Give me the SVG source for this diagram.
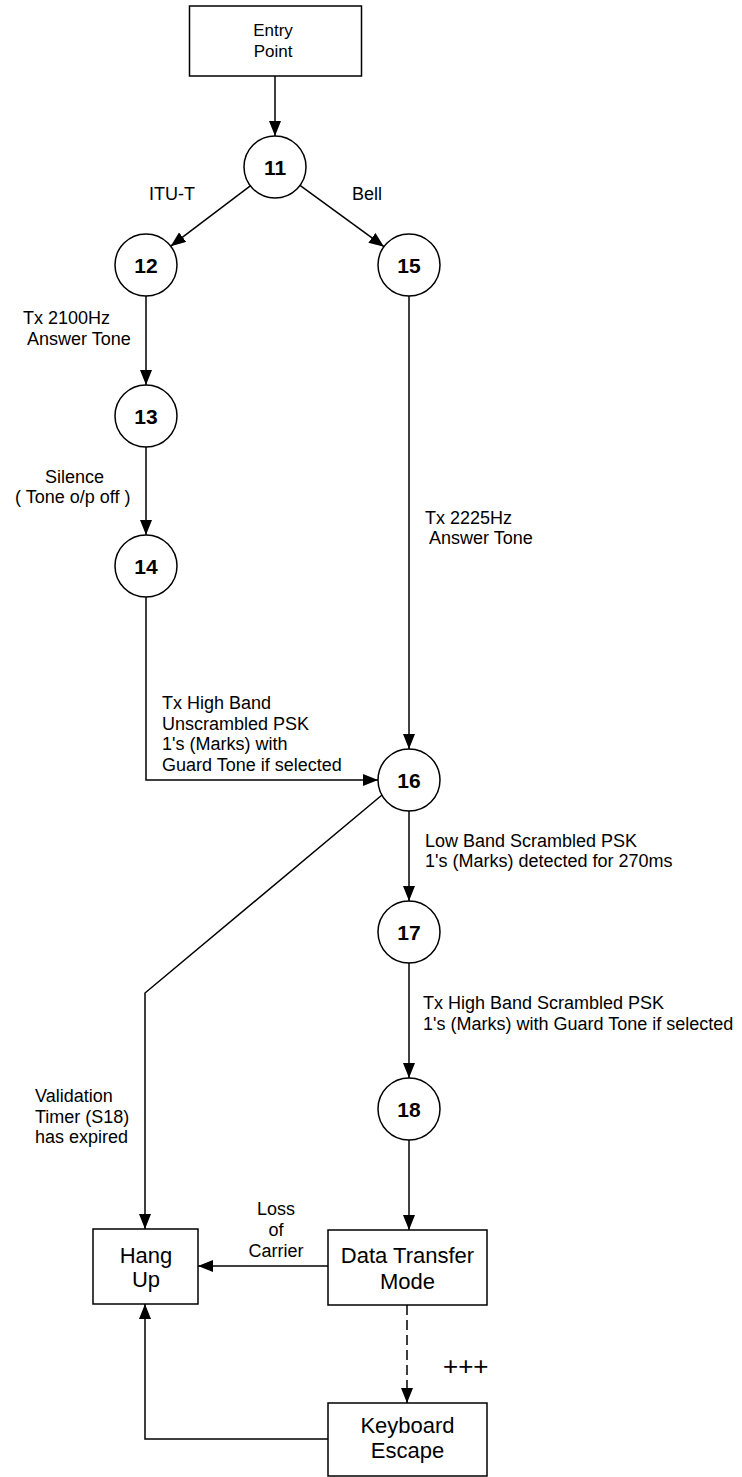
<svg xmlns="http://www.w3.org/2000/svg" width="742" height="1477" viewBox="0 0 742 1477">
<style>
text{font-family:"Liberation Sans",Arial,Helvetica,sans-serif;fill:#000}
.box{fill:#fff;stroke:#000;stroke-width:1.5}
.st{fill:#fff;stroke:#000;stroke-width:1.5}
.num{font-size:21px;font-weight:bold;text-anchor:middle}
.lbl{font-size:18px}
.bt{font-size:22px;text-anchor:middle}
.edge{fill:none;stroke:#000;stroke-width:1.5}
.dash{stroke-dasharray:10 5}
</style>
<defs>
<marker id="ah" markerWidth="15" markerHeight="12" refX="15" refY="6" orient="auto" markerUnits="userSpaceOnUse">
<path d="M0,0 L15,6 L0,12 z" fill="#000"/>
</marker>
</defs>
<rect width="742" height="1477" fill="#fff"/>
<g id="connectors">
<path class="edge" d="M275,76 V136" marker-end="url(#ah)"/>
<path class="edge" d="M250.3,185.8 L170.7,246.2" marker-end="url(#ah)"/>
<path class="edge" d="M300,185.3 L384,246.7" marker-end="url(#ah)"/>
<path class="edge" d="M146,296 V385" marker-end="url(#ah)"/>
<path class="edge" d="M146,447 V535" marker-end="url(#ah)"/>
<path class="edge" d="M409,296 V749" marker-end="url(#ah)"/>
<path class="edge" d="M146,597 V780 H378" marker-end="url(#ah)"/>
<path class="edge" d="M409,811 V901" marker-end="url(#ah)"/>
<path class="edge" d="M409,963 V1078" marker-end="url(#ah)"/>
<path class="edge" d="M409,1140 V1230" marker-end="url(#ah)"/>
<path class="edge" d="M382,795 L145,993 V1229" marker-end="url(#ah)"/>
<path class="edge" d="M328,1266 H198" marker-end="url(#ah)"/>
<path class="edge dash" d="M407,1305 V1403" marker-end="url(#ah)"/>
<path class="edge" d="M328,1439 H145 V1304" marker-end="url(#ah)"/>
</g>
<g id="labels">
<text class="lbl" x="149" y="200" font-size="17">ITU-T</text>
<text class="lbl" x="352" y="200">Bell</text>
<text class="lbl" x="23" y="324">Tx 2100Hz</text>
<text class="lbl" x="27" y="345">Answer Tone</text>
<text class="lbl" x="45" y="483">Silence</text>
<text class="lbl" x="15" y="503">( Tone o/p off )</text>
<text class="lbl" x="425" y="524">Tx 2225Hz</text>
<text class="lbl" x="429" y="544">Answer Tone</text>
<text class="lbl" x="162" y="709">Tx High Band</text>
<text class="lbl" x="162" y="730">Unscrambled PSK</text>
<text class="lbl" x="162" y="750">1's (Marks) with</text>
<text class="lbl" x="162" y="771">Guard Tone if selected</text>
<text class="lbl" x="425" y="847">Low Band Scrambled PSK</text>
<text class="lbl" x="425" y="867">1's (Marks) detected for 270ms</text>
<text class="lbl" x="423" y="1009">Tx High Band Scrambled PSK</text>
<text class="lbl" x="423" y="1030">1's (Marks) with Guard Tone if selected</text>
<text class="lbl" x="35" y="1102">Validation</text>
<text class="lbl" x="35" y="1123">Timer (S18)</text>
<text class="lbl" x="35" y="1143">has expired</text>
<text class="lbl" x="276" y="1215" text-anchor="middle" font-size="17">Loss</text>
<text class="lbl" x="276" y="1236" text-anchor="middle" font-size="17">of</text>
<text class="lbl" x="276" y="1257" text-anchor="middle" font-size="17">Carrier</text>
<text x="443" y="1375" font-size="26">+++</text>
</g>
<g id="entry">
<rect class="box" x="189.5" y="6" width="172" height="70"/>
<text x="273" y="36" font-size="17" text-anchor="middle">Entry</text>
<text x="273" y="57" font-size="17" text-anchor="middle">Point</text>
</g>
<g id="n11"><circle class="st" cx="275" cy="167" r="31"/><text class="num" x="275" y="174.5">11</text></g>
<g id="n12"><circle class="st" cx="146" cy="265" r="31"/><text class="num" x="146" y="272.5">12</text></g>
<g id="n15"><circle class="st" cx="409" cy="265" r="31"/><text class="num" x="409" y="272.5">15</text></g>
<g id="n13"><circle class="st" cx="146" cy="416" r="31"/><text class="num" x="146" y="423.5">13</text></g>
<g id="n14"><circle class="st" cx="146" cy="566" r="31"/><text class="num" x="146" y="573.5">14</text></g>
<g id="n16"><circle class="st" cx="409" cy="780" r="31"/><text class="num" x="409" y="787.5">16</text></g>
<g id="n17"><circle class="st" cx="409" cy="932" r="31"/><text class="num" x="409" y="939.5">17</text></g>
<g id="n18"><circle class="st" cx="409" cy="1109" r="31"/><text class="num" x="409" y="1116.5">18</text></g>
<g id="hangup">
<rect class="box" x="93" y="1229" width="105" height="75"/>
<text class="bt" x="146" y="1263">Hang</text>
<text class="bt" x="146" y="1287">Up</text>
</g>
<g id="datatransfer">
<rect class="box" x="328" y="1230" width="159" height="75"/>
<text class="bt" x="407.5" y="1263">Data Transfer</text>
<text class="bt" x="407.5" y="1289">Mode</text>
</g>
<g id="keyboard">
<rect class="box" x="328" y="1403" width="159" height="73"/>
<text class="bt" x="407.5" y="1433">Keyboard</text>
<text class="bt" x="407.5" y="1458">Escape</text>
</g>
</svg>
